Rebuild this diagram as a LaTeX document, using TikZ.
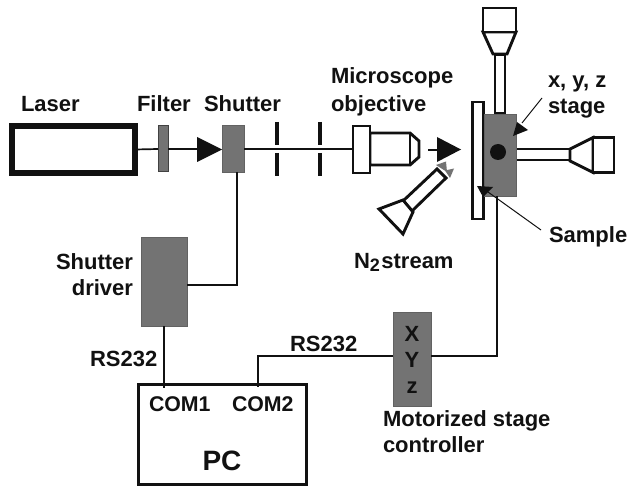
\documentclass[tikz,border=0pt]{standalone}
\usepackage{fontspec}
\setmainfont{Liberation Sans}[BoldFont={Liberation Sans Bold}]
\definecolor{devgray}{HTML}{737373}
\definecolor{ink}{HTML}{111111}
\tikzset{
  x=1pt,y=-1pt,
  lbl/.style={anchor=base west,inner sep=0pt,outer sep=0pt,text=ink,font=\fontsize{22}{26}\selectfont\bfseries},
  device/.style={draw=devgray!85!black,line width=0.8pt,fill=devgray,inner sep=0pt,outer sep=0pt},
  wire/.style={draw=ink,line width=1.6pt},
  beam/.style={draw=ink,line width=1.7pt},
  part/.style={draw=ink,line width=2.9pt,fill=white,line join=miter},
  tip/.style={fill=ink,draw=none},
  slit/.style={draw=ink,line width=3.8pt},
  box/.style={draw=ink,fill=white,inner sep=0pt,outer sep=0pt}
}
\begin{document}
\begin{tikzpicture}
\useasboundingbox (0,0) rectangle (628,486);
\fill[white] (0,0) rectangle (628,486);
% devices as nodes
\node[box,line width=6pt,minimum width=123pt,minimum height=47pt,anchor=north west] (laser) at (12,126) {};
\node[device,draw=ink!80,line width=1pt,minimum width=10pt,minimum height=46pt,anchor=north west] (filter) at (158,126) {};
\node[device,minimum width=22pt,minimum height=47pt,anchor=north west] (shutter) at (222,125) {};
\node[device,minimum width=46pt,minimum height=89pt,anchor=north west] (driver) at (141,237) {};
\node[device,minimum width=38pt,minimum height=94pt,anchor=north west] (xyzbox) at (393,312) {};
\node[box,line width=3pt,minimum width=168pt,minimum height=100pt,anchor=north west] (pc) at (138,384) {};
\coordinate (objin) at (353,149);
\coordinate (stagein) at (497,196);
% beam
\draw[beam] (laser.east) -- (filter.west);
\draw[beam] (filter.east) -- (205,149);
\fill[tip] (197,137) -- (222,149.5) -- (197,162) -- cycle;
\draw[beam] (shutter.east |- objin) -- (objin);
% slits
\draw[slit] (277,122) -- (277,145) (277,153) -- (277,176);
\draw[slit] (320,122) -- (320,145) (320,153) -- (320,176);
% objective
\draw[part] (370,133) -- (410,133) -- (419,141) -- (419,157) -- (410,165) -- (370,165) -- cycle;
\draw[part] (410,133) -- (410,165);
\draw[part] (353,126) rectangle (370,173);
% arrow to sample
\draw[beam] (428,150) -- (440,150);
\fill[tip] (437,137) -- (461,149.5) -- (437,162) -- cycle;
% top camera
\draw[part] (495,55) rectangle (505,113);
\draw[part] (483,32) -- (516,32) -- (507,54) -- (493,54) -- cycle;
\draw[part] (483,8) rectangle (516,32);
% right camera
\draw[part] (516,149) rectangle (570,160);
\draw[part] (570,149) -- (593,137.5) -- (593,172.5) -- (570,161) -- cycle;
\draw[part] (593,137.5) rectangle (614,172.5);
% plate and stage
\draw[part] (472.5,102) rectangle (483.5,219);
\node[device,minimum width=32pt,minimum height=82pt,anchor=north west] (stage) at (484,114) {};
\fill[ink] (498,152) circle (8);
% N2 nozzle
\draw[part] (403,201) -- (437,169) -- (446,178) -- (412,211) -- cycle;
\draw[part] (379,209) -- (403,200) -- (413,212) -- (403,234) -- cycle;
\fill[devgray] (436,165) -- (446,161.5) -- (447,172) -- cycle;
\fill[devgray] (445,170.5) -- (454,168.5) -- (450,178) -- cycle;
% pointers
\draw[ink,line width=1pt] (542,98) -- (522,123);
\fill[tip] (513,136) -- (517,122) -- (528,130) -- cycle;
\draw[ink,line width=1pt] (541,230) -- (488,192);
\fill[tip] (477,186) -- (493,187) -- (483,197) -- cycle;
% wires
\draw[wire] ([xshift=4pt]shutter.south) |- ([yshift=-3.5pt]driver.east);
\draw[wire] (driver.south) -- (driver.south |- pc.north) -- ++(0,4);
\draw[wire] (xyzbox.west |- 0,356) -| (258,387);
\draw[wire] (xyzbox.east |- 0,356) -| (stagein);
% labels
\node[lbl] (tlaser) at (21,112) {Laser};
\node[lbl] (tfilter) at (137,112) {Filter};
\node[lbl] (tshutter) at (204,112) {Shutter};
\node[lbl] (tmicro) at (331,84) {Microscope};
\node[lbl] (tobj) at (331,112) {objective};
\node[lbl] (txyz) at (548,88) {x, y, z};
\node[lbl] (tstage) at (548,114) {stage};
\node[lbl] (tsample) at (549,242) {Sample};
\node[lbl] (tn2) at (354,268) {N\raisebox{-3pt}{\fontsize{18}{20}\selectfont 2}\hspace{1.5pt}stream};
\node[lbl,anchor=base east] (tsd1) at (133,269) {Shutter};
\node[lbl,anchor=base east] (tsd2) at (133,295) {driver};
\node[lbl] (trs1) at (90,366) {RS232};
\node[lbl] (trs2) at (290,351) {RS232};
\node[lbl,font=\fontsize{21.3}{26}\selectfont\bfseries] (tcom1) at (149,411) {COM1};
\node[lbl,font=\fontsize{21.3}{26}\selectfont\bfseries] (tcom2) at (232,411) {COM2};
\node[lbl,font=\fontsize{28}{32}\selectfont\bfseries] (tpc) at (202.5,470) {PC};
\node[lbl,anchor=base] (tx) at (412,341) {X};
\node[lbl,anchor=base] (ty) at (412,367) {Y};
\node[lbl,anchor=base] (tz) at (412,393) {z};
\node[lbl] (tmot) at (383,426) {Motorized stage};
\node[lbl] (tctl) at (383,452) {controller};
\end{tikzpicture}
\end{document}
